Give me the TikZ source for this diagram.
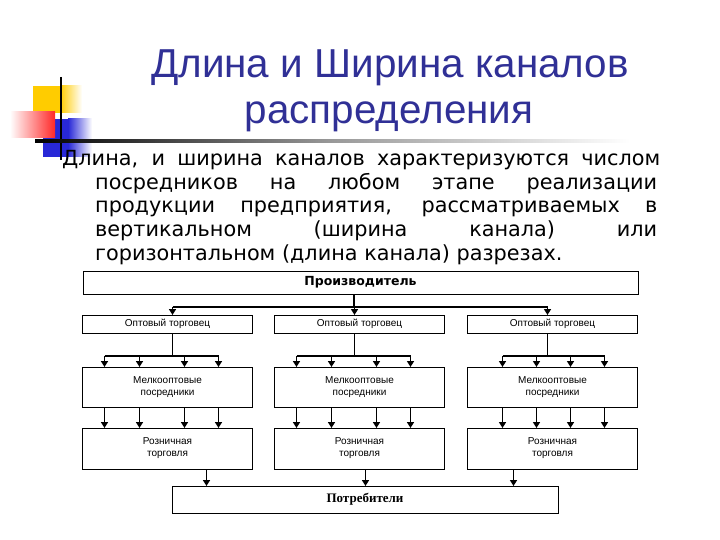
\documentclass[tikz,border=0pt]{standalone}
\usepackage{fontspec}
\setmainfont{DejaVu Sans}
\newfontfamily\headfont{Liberation Sans}
\newfontfamily\consfont{Liberation Serif}
\usetikzlibrary{arrows.meta,calc}
\definecolor{titleblue}{RGB}{48,48,150}
\definecolor{logoyellow}{RGB}{255,204,0}
\definecolor{logored}{RGB}{255,40,40}
\definecolor{logoblue}{RGB}{40,40,215}
\tikzset{
  title/.style={anchor=base,text=titleblue,font=\headfont\fontsize{40.4}{45}\selectfont},
  body/.style={anchor=base west,inner sep=0pt,font=\fontsize{20.8}{23.5}\selectfont},
  chan/.style={draw,line width=0.8pt,inner sep=0pt,outer sep=0pt,minimum width=170pt,
               align=center,font=\headfont\fontsize{10}{12}\selectfont},
  prodbox/.style={chan,minimum width=555pt,minimum height=23pt,
                  font=\bfseries\fontsize{12.5}{14}\selectfont},
  consbox/.style={chan,minimum width=386pt,minimum height=27pt,
                  font=\consfont\bfseries\fontsize{13}{15}\selectfont},
  line/.style={line width=1.5pt},
  arr/.style={line width=1.5pt,-{Triangle[length=6pt,width=7pt]}},
}

\begin{document}
\begin{tikzpicture}[x=1pt,y=-1pt]
  \useasboundingbox[fill=white] (0,0) rectangle (720,540);

  % logo squares
  \fill[logoyellow] (33,86) rectangle (60,113);
  \shade[left color=logoyellow,right color=white] (60,86) rectangle (82,113);
  \fill[logoblue] (43,119) rectangle (68,157);
  \shade[left color=logoblue,right color=white] (68,119) rectangle (92,157);
  \shade[left color=white,right color=logored] (10,112) rectangle (55,138);
  \draw[line width=2pt] (61,77) -- (61,160);
  \shade[left color=black,right color=white,middle color=gray!80] (35,139.5) rectangle (630,142.5);

  % title and text
  \node[title] (title1) at (390,78)  {Длина и Ширина каналов};
  \node[title] (title2) at (389,124) {распределения};
  \node[body] (txt1) at (62,166)  {\makebox[598pt][s]{Длина, и ширина каналов характеризуются числом}};
  \node[body] (txt2) at (95,189.5) {\makebox[562pt][s]{посредников на любом этапе реализации}};
  \node[body] (txt3) at (95,213)  {\makebox[562pt][s]{продукции предприятия, рассматриваемых в}};
  \node[body] (txt4) at (95,236.5) {\makebox[562pt][s]{вертикальном (ширина канала) или}};
  \node[body] (txt5) at (95,260)  {горизонтальном (длина канала) разрезах.};

  % channel boxes
  \node[prodbox] (prod) at (360.5,282.5) {Производитель};
  \foreach \i/\cx in {1/167.5,2/359.5,3/552.5}{
    \node[chan,minimum height=18pt] (w\i) at (\cx,324)   {Оптовый торговец};
    \node[chan,minimum height=40pt] (m\i) at (\cx,387)   {Мелкооптовые\\посредники};
    \node[chan,minimum height=41pt] (r\i) at (\cx,448.5) {Розничная\\торговля};
  }
  \node[consbox] (cons) at (365,499.5) {Потребители};

  % connectors
  \coordinate (bus) at (354,307);
  \foreach \i/\t/\a/\b/\c/\d/\r in {1/90/22/57/102/136/124,2/80/22/57/102/136/91,3/80/35/69/103/137/46}{
    \coordinate (t\i) at ([xshift=\t]w\i.south west);
    \coordinate (fork\i) at ([yshift=11]m\i.north west);
    \coordinate (o\i) at ([xshift=\r]r\i.south west);
    \draw[arr] (bus -| t\i) -- (w\i.north -| t\i);
    \draw[line] (t\i) -- (t\i |- fork\i);
    \draw[line] ([xshift=\a]fork\i) -- ([xshift=\d]fork\i);
    \foreach \o in {\a,\b,\c,\d}{
      \draw[arr] ([xshift=\o]fork\i) -- ([xshift=\o]m\i.north west);
      \draw[arr] ([xshift=\o]m\i.south west) -- ([xshift=\o]r\i.north west);
    }
    \draw[arr] (o\i) -- (o\i |- cons.north);
  }
  \draw[line] (prod.south -| bus) -- (bus);
  \draw[line] (bus -| t1) -- (bus -| t3);
\end{tikzpicture}
\end{document}
